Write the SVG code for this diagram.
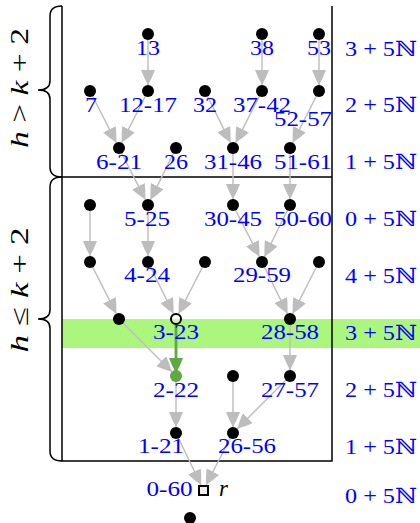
<svg xmlns="http://www.w3.org/2000/svg" width="420" height="523" viewBox="0 0 420 523">
<defs>
<style>
.lbl{font-family:"Liberation Serif","DejaVu Serif",serif;font-size:21px;fill:#0000ff;text-anchor:middle}
.rl{font-family:"Liberation Serif","DejaVu Serif",serif;font-size:21px;fill:#0000ff}
.bl{font-family:"Liberation Serif","DejaVu Serif",serif;font-size:25px;fill:#000;text-anchor:middle}
.it{font-style:italic}
.e{stroke:#bdbdbd;stroke-width:1.4;fill:none;marker-end:url(#ag)}
.eg{stroke:#5ea943;stroke-width:2.8;fill:none;marker-end:url(#agr)}
.n{fill:#000}
.fr{stroke:#000;stroke-width:1.5;fill:none}
</style>
<marker id="ag" markerUnits="userSpaceOnUse" markerWidth="15" markerHeight="14" refX="15" refY="7" orient="auto" viewBox="0 0 15 14">
<path d="M0,0 Q8,3 15,7 Q8,11 0,14 Z" fill="#bdbdbd"/>
</marker>
<marker id="agr" markerUnits="userSpaceOnUse" markerWidth="15" markerHeight="14" refX="15" refY="7" orient="auto" viewBox="0 0 15 14">
<path d="M0,0 Q8,3 15,7 Q8,11 0,14 Z" fill="#5ea943"/>
</marker>
</defs>
<rect x="0" y="0" width="420" height="523" fill="#fff"/>
<rect id="band" x="62" y="319" width="358" height="29" fill="#abf77e"/>
<g id="frame">
<path class="fr" d="M62,6 L62,461 L332,461 L332,6 M62,177 L332,177"/>
<path class="fr" d="M62,6 C54,6 50,9 50,16 L50,81 C50,87 46,90 38,90 C46,90 50,93 50,99 L50,167 C50,174 54,177 62,177"/>
<path class="fr" d="M62,177 C54,177 50,180 50,187 L50,310 C50,316 46,319 38,319 C46,319 50,322 50,328 L50,451 C50,458 54,461 62,461"/>
<text class="bl" transform="translate(28,88) rotate(-90)" textLength="120" lengthAdjust="spacingAndGlyphs"><tspan class="it">h</tspan> &gt; <tspan class="it">k</tspan> + 2</text>
<text class="bl" transform="translate(28,290) rotate(-90)" textLength="125" lengthAdjust="spacingAndGlyphs"><tspan class="it">h</tspan> ≤ <tspan class="it">k</tspan> + 2</text>
</g>
<g id="connectors">
<line class="e" x1="148" y1="34" x2="148" y2="85"/>
<line class="e" x1="262" y1="34" x2="262" y2="85"/>
<line class="e" x1="319" y1="34" x2="319" y2="85"/>
<line class="e" x1="90" y1="91" x2="116.3" y2="142.6"/>
<line class="e" x1="148" y1="91" x2="121.7" y2="142.6"/>
<line class="e" x1="205" y1="91" x2="230.4" y2="142.6"/>
<line class="e" x1="262" y1="91" x2="235.7" y2="142.6"/>
<line class="e" x1="319" y1="91" x2="292.7" y2="142.6"/>
<line class="e" x1="119" y1="148" x2="145.3" y2="199.6"/>
<line class="e" x1="176" y1="148" x2="150.6" y2="199.6"/>
<line class="e" x1="233" y1="148" x2="233" y2="199"/>
<line class="e" x1="290" y1="148" x2="290" y2="199"/>
<line class="e" x1="90" y1="205" x2="90" y2="256"/>
<line class="e" x1="148" y1="205" x2="148" y2="256"/>
<line class="e" x1="233" y1="205" x2="259.3" y2="256.6"/>
<line class="e" x1="290" y1="205" x2="264.6" y2="256.6"/>
<line class="e" x1="90" y1="262" x2="116.3" y2="313.6"/>
<line class="e" x1="148" y1="262" x2="173.4" y2="313.6"/>
<line class="e" x1="205" y1="262" x2="178.7" y2="313.6"/>
<line class="e" x1="262" y1="262" x2="287.4" y2="313.6"/>
<line class="e" x1="319" y1="262" x2="292.7" y2="313.6"/>
<line class="e" x1="119" y1="319" x2="171.8" y2="371.8"/>
<line class="e" x1="290" y1="319" x2="290" y2="370"/>
<line class="e" x1="176" y1="376" x2="176" y2="427"/>
<line class="e" x1="233" y1="376" x2="233" y2="427"/>
<line class="e" x1="290" y1="376" x2="237.2" y2="428.8"/>
<line class="e" x1="176" y1="433" x2="201" y2="485"/>
<line class="e" x1="233" y1="433" x2="206" y2="485"/>
<line class="eg" x1="176" y1="324" x2="176" y2="373"/>
</g>
<g id="n13"><circle class="n" cx="148" cy="34" r="6"/><text class="lbl" x="148" y="55" textLength="24" lengthAdjust="spacingAndGlyphs">13</text></g>
<g id="n38"><circle class="n" cx="262" cy="34" r="6"/><text class="lbl" x="262" y="55" textLength="24" lengthAdjust="spacingAndGlyphs">38</text></g>
<g id="n53"><circle class="n" cx="319" cy="34" r="6"/><text class="lbl" x="319" y="55" textLength="24" lengthAdjust="spacingAndGlyphs">53</text></g>
<g id="n7"><circle class="n" cx="90" cy="91" r="6"/><text class="lbl" x="91" y="112" textLength="12" lengthAdjust="spacingAndGlyphs">7</text></g>
<g id="n12-17"><circle class="n" cx="148" cy="91" r="6"/><text class="lbl" x="148" y="112" textLength="58" lengthAdjust="spacingAndGlyphs">12-17</text></g>
<g id="n32"><circle class="n" cx="205" cy="91" r="6"/><text class="lbl" x="205" y="112" textLength="24" lengthAdjust="spacingAndGlyphs">32</text></g>
<g id="n37-42"><circle class="n" cx="262" cy="91" r="6"/><text class="lbl" x="262" y="112" textLength="58" lengthAdjust="spacingAndGlyphs">37-42</text></g>
<g id="n52-57"><circle class="n" cx="319" cy="91" r="6"/><text class="lbl" x="303" y="126" textLength="58" lengthAdjust="spacingAndGlyphs">52-57</text></g>
<g id="n6-21"><circle class="n" cx="119" cy="148" r="6"/><text class="lbl" x="119" y="169" textLength="46" lengthAdjust="spacingAndGlyphs">6-21</text></g>
<g id="n26"><circle class="n" cx="176" cy="148" r="6"/><text class="lbl" x="176" y="169" textLength="24" lengthAdjust="spacingAndGlyphs">26</text></g>
<g id="n31-46"><circle class="n" cx="233" cy="148" r="6"/><text class="lbl" x="233" y="169" textLength="58" lengthAdjust="spacingAndGlyphs">31-46</text></g>
<g id="n51-61"><circle class="n" cx="290" cy="148" r="6"/><text class="lbl" x="303" y="169" textLength="58" lengthAdjust="spacingAndGlyphs">51-61</text></g>
<g id="n0a"><circle class="n" cx="90" cy="205" r="6"/></g>
<g id="n5-25"><circle class="n" cx="148" cy="205" r="6"/><text class="lbl" x="147" y="226" textLength="46" lengthAdjust="spacingAndGlyphs">5-25</text></g>
<g id="n30-45"><circle class="n" cx="233" cy="205" r="6"/><text class="lbl" x="233" y="226" textLength="58" lengthAdjust="spacingAndGlyphs">30-45</text></g>
<g id="n50-60"><circle class="n" cx="290" cy="205" r="6"/><text class="lbl" x="303" y="226" textLength="58" lengthAdjust="spacingAndGlyphs">50-60</text></g>
<g id="n4a"><circle class="n" cx="90" cy="262" r="6"/></g>
<g id="n4-24"><circle class="n" cx="148" cy="262" r="6"/><text class="lbl" x="147" y="282" textLength="46" lengthAdjust="spacingAndGlyphs">4-24</text></g>
<g id="n4b"><circle class="n" cx="205" cy="262" r="6"/></g>
<g id="n29-59"><circle class="n" cx="262" cy="262" r="6"/><text class="lbl" x="262" y="282" textLength="58" lengthAdjust="spacingAndGlyphs">29-59</text></g>
<g id="n4c"><circle class="n" cx="319" cy="262" r="6"/></g>
<g id="n3a"><circle class="n" cx="119" cy="319" r="6"/></g>
<g id="n3-23"><circle cx="176" cy="319" r="5" fill="#fff" fill-opacity="0.4" stroke="#000" stroke-width="2"/><text class="lbl" x="176" y="339" textLength="46" lengthAdjust="spacingAndGlyphs">3-23</text></g>
<g id="n28-58"><circle class="n" cx="290" cy="319" r="6"/><text class="lbl" x="290" y="339" textLength="58" lengthAdjust="spacingAndGlyphs">28-58</text></g>
<g id="n2-22"><circle cx="176" cy="376" r="6" fill="#5ea943"/><text class="lbl" x="176" y="397" textLength="46" lengthAdjust="spacingAndGlyphs">2-22</text></g>
<g id="n2a"><circle class="n" cx="233" cy="376" r="6"/></g>
<g id="n27-57"><circle class="n" cx="290" cy="376" r="6"/><text class="lbl" x="290" y="397" textLength="58" lengthAdjust="spacingAndGlyphs">27-57</text></g>
<g id="n1-21"><circle class="n" cx="176" cy="433" r="6"/><text class="lbl" x="161" y="453" textLength="46" lengthAdjust="spacingAndGlyphs">1-21</text></g>
<g id="n26-56"><circle class="n" cx="233" cy="433" r="6"/><text class="lbl" x="247" y="453" textLength="58" lengthAdjust="spacingAndGlyphs">26-56</text></g>
<g id="root"><rect x="199" y="486" width="9" height="9" fill="#eeeeee" stroke="#000" stroke-width="2"/><text class="lbl" x="169.5" y="496" textLength="46" lengthAdjust="spacingAndGlyphs">0-60</text><text x="219" y="496" font-family="Liberation Serif, DejaVu Serif, serif" font-size="23" font-style="italic" fill="#000">r</text></g>
<g id="nbottom"><circle class="n" cx="190" cy="518" r="6"/></g>
<g id="levels">
<text class="rl" x="345" y="56" textLength="72" lengthAdjust="spacingAndGlyphs">3 + 5ℕ</text>
<text class="rl" x="345" y="112" textLength="72" lengthAdjust="spacingAndGlyphs">2 + 5ℕ</text>
<text class="rl" x="345" y="169" textLength="72" lengthAdjust="spacingAndGlyphs">1 + 5ℕ</text>
<text class="rl" x="345" y="226" textLength="72" lengthAdjust="spacingAndGlyphs">0 + 5ℕ</text>
<text class="rl" x="345" y="283" textLength="72" lengthAdjust="spacingAndGlyphs">4 + 5ℕ</text>
<text class="rl" x="345" y="340" textLength="72" lengthAdjust="spacingAndGlyphs">3 + 5ℕ</text>
<text class="rl" x="345" y="397" textLength="72" lengthAdjust="spacingAndGlyphs">2 + 5ℕ</text>
<text class="rl" x="345" y="454" textLength="72" lengthAdjust="spacingAndGlyphs">1 + 5ℕ</text>
<text class="rl" x="345" y="503" textLength="72" lengthAdjust="spacingAndGlyphs">0 + 5ℕ</text>
</g>
</svg>
